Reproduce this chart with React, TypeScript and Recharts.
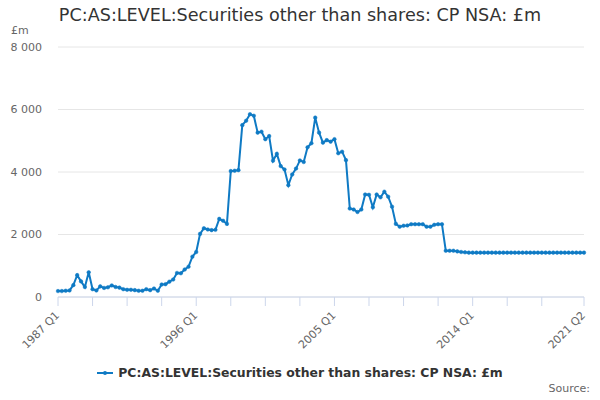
import { LineChart, Line, XAxis, YAxis, CartesianGrid } from "recharts";

const START_YEAR = 1987;
const TITLE = "PC:AS:LEVEL:Securities other than shares: CP NSA: £m";

// quarterly values, 1987 Q1 .. 2021 Q2 (£m)
const values = [
  190, 190, 200, 210, 380, 700, 500, 320, 790, 250,
  210, 340, 290, 310, 370, 320, 300, 250, 230, 230,
  220, 200, 200, 250, 220, 270, 200, 400, 410, 490,
  560, 770, 760, 880, 970, 1290, 1440, 2020, 2200, 2160,
  2140, 2150, 2500, 2440, 2340, 4030, 4040, 4060, 5500, 5640,
  5850, 5800, 5260, 5290, 5050, 5150, 4360, 4580, 4190, 4080,
  3580, 3920, 4110, 4370, 4320, 4790, 4920, 5740, 5260, 4940,
  5020, 4970, 5050, 4600, 4650, 4380, 2830, 2800, 2720, 2800,
  3280, 3270, 2870, 3280, 3190, 3370, 3210, 2890, 2340, 2250,
  2280, 2290, 2330, 2330, 2330, 2330, 2250, 2250, 2310, 2330,
  2330, 1480, 1480, 1480, 1460, 1440, 1430, 1420, 1420, 1420,
  1420, 1420, 1420, 1420, 1420, 1420, 1420, 1420, 1420, 1420,
  1420, 1420, 1420, 1420, 1420, 1420, 1420, 1420, 1420, 1420,
  1420, 1420, 1420, 1420, 1420, 1420, 1420, 1420,
];

const quarters = values.map(
  (_, i) => `${START_YEAR + Math.floor(i / 4)} Q${(i % 4) + 1}`
);

const tickQuarters = [
  "1987 Q1", "1989 Q2", "1991 Q3", "1993 Q4", "1996 Q1", "1998 Q2",
  "2000 Q3", "2002 Q4", "2005 Q1", "2007 Q2", "2009 Q3", "2011 Q4",
  "2014 Q1", "2016 Q2", "2018 Q3", "2021 Q2",
];
const labelQuarters = ["1987 Q1", "1996 Q1", "2005 Q1", "2014 Q1", "2021 Q2"];
const yTicks = [0, 2000, 4000, 6000, 8000];

const data = quarters.map((q, i) => ({ q, value: values[i] }));

const FONT = "'DejaVu Sans', sans-serif";
const BLUE = "#0f7ac4";

const fmt = (v: number) => String(v).replace(/\B(?=(\d{3})+(?!\d))/g, " ");

function QuarterTick(props: any) {
  const { x, y, payload } = props;
  if (!labelQuarters.includes(payload.value)) return null;
  return (
    <g transform={`translate(${x + 2},${y + 8})`}>
      <text
        textAnchor="end"
        transform="rotate(-45)"
        fill="#666666"
        fontSize={11}
        fontFamily={FONT}
      >
        {payload.value}
      </text>
    </g>
  );
}

export default function App() {
  return (
    <div
      style={{
        position: "absolute",
        left: 0,
        top: 0,
        width: 600,
        height: 400,
        background: "#fff",
        fontFamily: FONT,
      }}
    >
      <div
        style={{
          position: "absolute",
          left: 0,
          width: 600,
          top: 5,
          textAlign: "center",
          fontSize: 17.6,
          color: "#333333",
        }}
      >
        {TITLE}
      </div>
      <div style={{ position: "absolute", left: 11, top: 24, fontSize: 11, color: "#666666" }}>
        £m
      </div>
      <LineChart
        width={600}
        height={400}
        data={data}
        margin={{ top: 47, right: 16, bottom: 43, left: 0 }}
      >
        <CartesianGrid vertical={false} stroke="#e6e6e6" />
        <XAxis
          dataKey="q"
          ticks={tickQuarters}
          interval={0}
          height={60}
          stroke="#ccd6eb"
          tickSize={9}
          tick={<QuarterTick />}
        />
        <YAxis
          width={58}
          domain={[0, 8000]}
          ticks={yTicks}
          axisLine={false}
          tickLine={false}
          tickSize={0}
          tickMargin={16}
          tickFormatter={fmt}
          tick={{ fill: "#666666", fontSize: 11, fontFamily: FONT }}
        />
        <Line
          type="linear"
          dataKey="value"
          stroke={BLUE}
          strokeWidth={2}
          dot={{ r: 1.8, fill: BLUE, stroke: BLUE, strokeWidth: 0.5 }}
          isAnimationActive={false}
        />
      </LineChart>
      <div
        style={{
          position: "absolute",
          left: 0,
          width: 600,
          top: 365,
          display: "flex",
          justifyContent: "center",
          alignItems: "center",
          fontSize: 12.4,
          fontWeight: "bold",
          color: "#333333",
        }}
      >
        <svg width={16} height={10} style={{ marginRight: 5 }}>
          <line x1={0} y1={5} x2={16} y2={5} stroke={BLUE} strokeWidth={2} />
          <circle cx={8} cy={5} r={2} fill={BLUE} />
        </svg>
        {TITLE}
      </div>
      <div
        style={{
          position: "absolute",
          right: 10,
          top: 382,
          fontSize: 11,
          color: "#666666",
        }}
      >
        Source:
      </div>
    </div>
  );
}
